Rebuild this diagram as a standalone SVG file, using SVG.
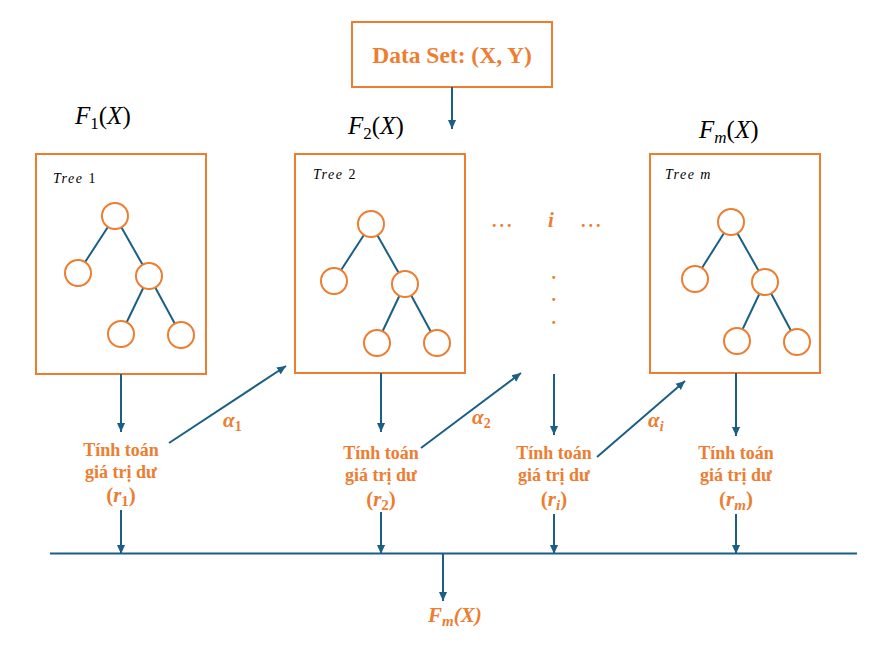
<svg xmlns="http://www.w3.org/2000/svg" width="893" height="645" viewBox="0 0 893 645">
<defs>
<marker id="ah" viewBox="0 0 10 10" refX="10" refY="5" markerWidth="9" markerHeight="9" markerUnits="userSpaceOnUse" orient="auto"><path d="M0,0.5 L10,5 L0,9.5 z" fill="#1B5F85"/></marker>
<style>
.box{fill:#fff;stroke:#ED7D31;stroke-width:2}
.nd{fill:#fff;stroke:#ED7D31;stroke-width:2}
.ed{stroke:#1B5F85;stroke-width:2}
.cn{stroke:#1B5F85;stroke-width:2;fill:none}
.ar{stroke:#1B5F85;stroke-width:2;fill:none;marker-end:url(#ah)}
.fl{font-family:"Liberation Serif",serif;font-size:25px;fill:#000}
.tl{font-family:"Liberation Serif",serif;font-size:14px;font-style:italic;letter-spacing:1.5px;fill:#000}
.lb{font-family:"Liberation Serif",serif;font-size:18px;font-weight:bold;fill:#ED7D31;text-anchor:middle}
.rl{font-family:"Liberation Serif",serif;font-size:21px;font-weight:bold;fill:#ED7D31;text-anchor:middle}
.ds{font-family:"Liberation Serif",serif;font-size:23.5px;font-weight:bold;fill:#ED7D31;text-anchor:middle}
.al{font-family:"Liberation Serif",serif;font-size:21px;font-weight:bold;font-style:italic;fill:#ED7D31}
.dt{font-family:"Liberation Serif",serif;font-size:18px;font-weight:bold;fill:#ED7D31}
</style>
</defs>
<rect width="893" height="645" fill="#fff"/>

<g id="dataset">
<rect class="box" x="352" y="22" width="200" height="65"/>
<text class="ds" x="452" y="63">Data Set: (X, Y)</text>
</g>

<g id="f1label"><text class="fl" x="75" y="124"><tspan font-style="italic">F</tspan><tspan font-size="17" dy="5">1</tspan><tspan dy="-5">(</tspan><tspan font-style="italic">X</tspan>)</text></g>
<g id="f2label"><text class="fl" x="348" y="134"><tspan font-style="italic">F</tspan><tspan font-size="17" dy="5">2</tspan><tspan dy="-5">(</tspan><tspan font-style="italic">X</tspan>)</text></g>
<g id="fmlabel"><text class="fl" x="699" y="138"><tspan font-style="italic">F</tspan><tspan font-size="17" font-style="italic" dy="5">m</tspan><tspan dy="-5">(</tspan><tspan font-style="italic">X</tspan>)</text></g>

<g id="tree1">
<rect class="box" x="36" y="154" width="170" height="220"/>
<text class="tl" x="53" y="183">Tree <tspan font-style="normal">1</tspan></text>
<line class="ed" x1="115" y1="216" x2="78" y2="273"/>
<line class="ed" x1="115" y1="216" x2="149" y2="276"/>
<line class="ed" x1="149" y1="276" x2="121" y2="334"/>
<line class="ed" x1="149" y1="276" x2="181" y2="335"/>
<circle class="nd" cx="115" cy="216" r="13"/>
<circle class="nd" cx="78" cy="273" r="13"/>
<circle class="nd" cx="149" cy="276" r="13"/>
<circle class="nd" cx="121" cy="334" r="13"/>
<circle class="nd" cx="181" cy="335" r="13"/>
</g>

<g id="tree2">
<rect class="box" x="295" y="154" width="170" height="219"/>
<text class="tl" x="313" y="179">Tree <tspan font-style="normal">2</tspan></text>
<line class="ed" x1="371" y1="224" x2="334" y2="281"/>
<line class="ed" x1="371" y1="224" x2="405" y2="284"/>
<line class="ed" x1="405" y1="284" x2="377" y2="343"/>
<line class="ed" x1="405" y1="284" x2="437" y2="343"/>
<circle class="nd" cx="371" cy="224" r="13"/>
<circle class="nd" cx="334" cy="281" r="13"/>
<circle class="nd" cx="405" cy="284" r="13"/>
<circle class="nd" cx="377" cy="343" r="13"/>
<circle class="nd" cx="437" cy="343" r="13"/>
</g>

<g id="treem">
<rect class="box" x="650" y="154" width="170" height="219"/>
<text class="tl" x="665" y="179">Tree m</text>
<line class="ed" x1="731" y1="222" x2="695" y2="279"/>
<line class="ed" x1="731" y1="222" x2="765" y2="282"/>
<line class="ed" x1="765" y1="282" x2="737" y2="341"/>
<line class="ed" x1="765" y1="282" x2="797" y2="342"/>
<circle class="nd" cx="731" cy="222" r="13"/>
<circle class="nd" cx="695" cy="279" r="13"/>
<circle class="nd" cx="765" cy="282" r="13"/>
<circle class="nd" cx="737" cy="341" r="13"/>
<circle class="nd" cx="797" cy="342" r="13"/>
</g>

<g id="ellipsis">
<text class="dt" x="492" y="227" letter-spacing="3">...</text>
<text class="al" x="548" y="227" font-size="20">i</text>
<text class="dt" x="581" y="227" letter-spacing="3">...</text>
<text class="dt" x="551.5" y="279">.</text>
<text class="dt" x="551.5" y="301">.</text>
<text class="dt" x="551.5" y="324">.</text>
</g>

<g id="res1">
<text class="lb" x="121" y="456">Tính toán</text>
<text class="lb" x="121" y="478">giá trị dư</text>
<text class="rl" x="121" y="502">(<tspan font-style="italic">r</tspan><tspan font-size="15" dy="4">1</tspan><tspan dy="-4">)</tspan></text>
</g>
<g id="res2">
<text class="lb" x="381" y="459">Tính toán</text>
<text class="lb" x="381" y="481">giá trị dư</text>
<text class="rl" x="381" y="506">(<tspan font-style="italic">r</tspan><tspan font-size="15" dy="4">2</tspan><tspan dy="-4">)</tspan></text>
</g>
<g id="resi">
<text class="lb" x="554" y="459">Tính toán</text>
<text class="lb" x="554" y="481">giá trị dư</text>
<text class="rl" x="554" y="506">(<tspan font-style="italic">r</tspan><tspan font-size="15" font-style="italic" dy="4">i</tspan><tspan dy="-4">)</tspan></text>
</g>
<g id="resm">
<text class="lb" x="736" y="459">Tính toán</text>
<text class="lb" x="736" y="481">giá trị dư</text>
<text class="rl" x="736" y="506">(<tspan font-style="italic">r</tspan><tspan font-size="15" font-style="italic" dy="4">m</tspan><tspan dy="-4">)</tspan></text>
</g>

<g id="alphas">
<text class="al" x="223" y="427">α<tspan font-size="14" font-style="normal" dy="4">1</tspan></text>
<text class="al" x="472" y="424">α<tspan font-size="14" font-style="normal" dy="4">2</tspan></text>
<text class="al" x="648" y="427">α<tspan font-size="14" dy="4">i</tspan></text>
</g>

<g id="output">
<text class="al" x="428" y="622" font-size="21">F<tspan font-size="15" dy="4">m</tspan><tspan dy="-4">(X)</tspan></text>
</g>

<g id="connectors">
<line class="ar" x1="452" y1="87" x2="452" y2="129"/>
<line class="ar" x1="121" y1="374" x2="121" y2="432"/>
<line class="ar" x1="381" y1="373" x2="381" y2="432"/>
<line class="ar" x1="554" y1="374" x2="554" y2="435"/>
<line class="ar" x1="736" y1="373" x2="736" y2="436"/>
<line class="ar" x1="169" y1="443" x2="286" y2="366"/>
<line class="ar" x1="421" y1="448" x2="521" y2="373"/>
<line class="ar" x1="597" y1="457" x2="685" y2="381"/>
<line class="ar" x1="121" y1="510" x2="121" y2="554"/>
<line class="ar" x1="381" y1="512" x2="381" y2="554"/>
<line class="ar" x1="554" y1="514" x2="554" y2="554"/>
<line class="ar" x1="736" y1="514" x2="736" y2="554"/>
<line class="cn" x1="50" y1="553.5" x2="857" y2="553.5"/>
<line class="ar" x1="443" y1="553" x2="443" y2="601"/>
</g>
</svg>
